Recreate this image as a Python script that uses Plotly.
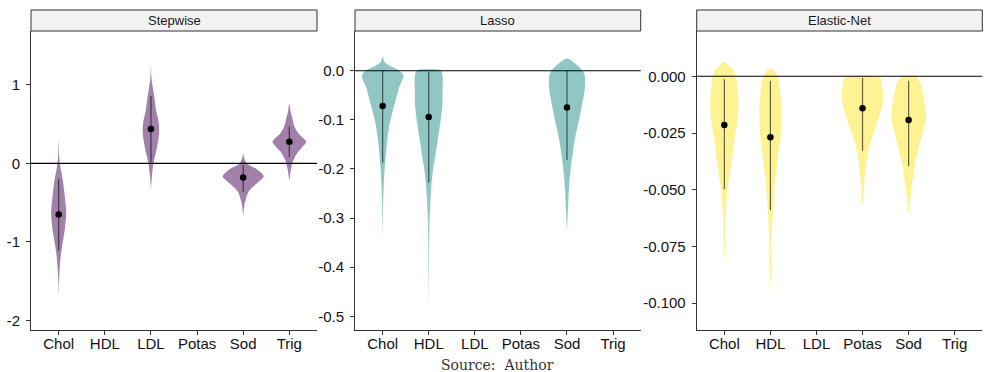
import plotly.graph_objects as go

# ---------------- data ----------------
categories = ["Chol", "HDL", "LDL", "Potas", "Sod", "Trig"]
panel_titles = ["Stepwise", "Lasso", "Elastic-Net"]

step_ticks = [-2, -1, 0, 1]
step_ticktext = ["-2", "-1", "0", "1"]
lasso_ticks = [-0.5, -0.4, -0.3, -0.2, -0.1, 0.0]
lasso_ticktext = ["-0.5", "-0.4", "-0.3", "-0.2", "-0.1", "0.0"]
en_ticks = [-0.1, -0.075, -0.05, -0.025, 0.0]
en_ticktext = ["-0.100", "-0.075", "-0.050", "-0.025", "0.000"]

# point estimates and intervals
step_vars = ["Chol", "LDL", "Sod", "Trig"]
step_est = [-0.65, 0.437, -0.18, 0.275]
step_lo = [-1.11, 0.02, -0.36, 0.08]
step_hi = [-0.20, 0.857, -0.02, 0.47]

lasso_vars = ["Chol", "HDL", "Sod"]
lasso_est = [-0.072, -0.094, -0.075]
lasso_lo = [-0.187, -0.228, -0.182]
lasso_hi = [0.0, -0.003, 0.0]

en_vars = ["Chol", "HDL", "Potas", "Sod"]
en_est = [-0.0215, -0.0269, -0.0141, -0.0193]
en_lo = [-0.0498, -0.059, -0.0328, -0.0395]
en_hi = [-0.0013, -0.002, -0.0006, -0.002]

# violin density profiles: value grid and half-width (category units)
step_chol_y = [0.30, 0.10, 0.0, -0.2, -0.4, -0.64, -0.85, -1.06, -1.2, -1.36, -1.5, -1.68]
step_chol_w = [0.0, 0.01, 0.025, 0.085, 0.13, 0.163, 0.13, 0.072, 0.04, 0.02, 0.008, 0.0]
step_ldl_y = [1.25, 1.1, 1.0, 0.85, 0.68, 0.55, 0.42, 0.3, 0.17, 0.0, -0.17, -0.34]
step_ldl_w = [0.0, 0.01, 0.03, 0.072, 0.11, 0.16, 0.18, 0.16, 0.12, 0.054, 0.02, 0.0]
step_sod_y = [0.127, 0.07, 0.0, -0.064, -0.11, -0.162, -0.21, -0.255, -0.36, -0.47, -0.55, -0.68]
step_sod_w = [0.0, 0.02, 0.08, 0.27, 0.37, 0.445, 0.38, 0.29, 0.115, 0.05, 0.02, 0.0]
step_trig_y = [0.76, 0.65, 0.59, 0.47, 0.38, 0.275, 0.2, 0.15, 0.04, -0.085, -0.23]
step_trig_w = [0.0, 0.03, 0.06, 0.11, 0.2, 0.365, 0.27, 0.195, 0.087, 0.033, 0.0]

lasso_chol_y = [0.0285, 0.018, 0.008, 0.0014, -0.009, -0.036, -0.07, -0.104, -0.138, -0.172, -0.206, -0.24, -0.27, -0.341]
lasso_chol_w = [0.0, 0.04, 0.2, 0.34, 0.45, 0.35, 0.254, 0.163, 0.104, 0.069, 0.039, 0.022, 0.011, 0.0]
lasso_hdl_y = [0.003, 0.0015, -0.009, -0.04, -0.07, -0.104, -0.138, -0.172, -0.206, -0.24, -0.27, -0.307, -0.341, -0.4, -0.484]
lasso_hdl_w = [0.0, 0.25, 0.30, 0.30, 0.297, 0.254, 0.2, 0.145, 0.087, 0.054, 0.033, 0.017, 0.011, 0.006, 0.0]
lasso_sod_y = [0.025, 0.0116, 0.0014, -0.009, -0.036, -0.07, -0.104, -0.138, -0.172, -0.206, -0.24, -0.273, -0.328]
lasso_sod_w = [0.0, 0.217, 0.325, 0.384, 0.386, 0.325, 0.254, 0.174, 0.119, 0.072, 0.043, 0.026, 0.0]

en_chol_y = [0.0064, 0.0045, 0.0028, 0.0, -0.0053, -0.0126, -0.02, -0.0273, -0.0347, -0.042, -0.0493, -0.0567, -0.064, -0.0713, -0.0839]
en_chol_w = [0.0, 0.1, 0.2, 0.254, 0.289, 0.308, 0.282, 0.224, 0.18, 0.13, 0.072, 0.043, 0.026, 0.015, 0.0]
en_hdl_y = [0.0032, 0.0028, 0.0013, -0.0024, -0.0126, -0.02, -0.0273, -0.0347, -0.042, -0.0493, -0.0567, -0.064, -0.0713, -0.0787, -0.086, -0.0956]
en_hdl_w = [0.0, 0.06, 0.12, 0.18, 0.239, 0.239, 0.217, 0.167, 0.13, 0.087, 0.065, 0.043, 0.028, 0.017, 0.011, 0.0]
en_potas_y = [0.0003, 0.0001, -0.0009, -0.0075, -0.0119, -0.0178, -0.0237, -0.0295, -0.0369, -0.0442, -0.0515, -0.0574]
en_potas_w = [0.0, 0.33, 0.39, 0.445, 0.44, 0.354, 0.265, 0.163, 0.091, 0.05, 0.026, 0.0]
en_sod_y = [0.0003, 0.0001, -0.0005, -0.0031, -0.009, -0.0178, -0.0237, -0.031, -0.0383, -0.0457, -0.053, -0.061]
en_sod_w = [0.0, 0.15, 0.18, 0.254, 0.325, 0.38, 0.319, 0.228, 0.145, 0.087, 0.043, 0.0]

step_profiles = [(step_chol_y, step_chol_w), (step_ldl_y, step_ldl_w), (step_sod_y, step_sod_w), (step_trig_y, step_trig_w)]
lasso_profiles = [(lasso_chol_y, lasso_chol_w), (lasso_hdl_y, lasso_hdl_w), (lasso_sod_y, lasso_sod_w)]
en_profiles = [(en_chol_y, en_chol_w), (en_hdl_y, en_hdl_w), (en_potas_y, en_potas_w), (en_sod_y, en_sod_w)]

# ---------------- style ----------------
fills = ["rgba(68,1,84,0.5)", "rgba(33,144,140,0.5)", "rgba(253,231,37,0.5)"]
W, H = 989, 372
x_domains = [[31 / W, 317 / W], [355 / W, 640.7 / W], [696.7 / W, 982.3 / W]]
y_domain = [1 - 330 / H, 1 - 31 / H]
y_ranges = [[-2.12, 1.685], [-0.528, 0.0809], [-0.1118, 0.01996]]
strip_h = 21 / 299.0

fig = go.Figure()

panels = [
    (step_vars, step_est, step_lo, step_hi, step_profiles, step_ticks, step_ticktext),
    (lasso_vars, lasso_est, lasso_lo, lasso_hi, lasso_profiles, lasso_ticks, lasso_ticktext),
    (en_vars, en_est, en_lo, en_hi, en_profiles, en_ticks, en_ticktext),
]

shapes = []
annotations = []
for p, (vars_, est, lo, hi, profiles, tv, tt) in enumerate(panels):
    xa = "x" if p == 0 else f"x{p+1}"
    ya = "y" if p == 0 else f"y{p+1}"
    for v, (py, pw) in zip(vars_, profiles):
        c = categories.index(v) + 1
        xs = [c + w for w in pw] + [c - w for w in reversed(pw)]
        ys = list(py) + list(reversed(py))
        fig.add_trace(go.Scatter(
            x=xs, y=ys, xaxis=xa, yaxis=ya, mode="lines", fill="toself",
            fillcolor=fills[p], line=dict(width=0, shape="spline", smoothing=0.8),
            hoverinfo="skip", showlegend=False))
    xs = [categories.index(v) + 1 for v in vars_]
    fig.add_trace(go.Scatter(
        x=xs, y=est, xaxis=xa, yaxis=ya, mode="markers",
        marker=dict(color="black", size=6.5),
        error_y=dict(type="data", symmetric=False,
                     array=[h - e for h, e in zip(hi, est)],
                     arrayminus=[e - l for e, l in zip(est, lo)],
                     color="rgba(0,0,0,0.6)", thickness=1.2, width=0),
        showlegend=False))
    # zero reference line
    shapes.append(dict(type="line", xref=f"{xa} domain", yref=ya, x0=0, x1=1, y0=0, y1=0,
                       line=dict(color="black", width=1.1), layer="above"))
    # facet strip
    shapes.append(dict(type="rect", xref=f"{xa} domain", yref=f"{ya} domain",
                       x0=0, x1=1, y0=1, y1=1 + strip_h,
                       fillcolor="#F2F2F2", line=dict(color="#333333", width=1)))
    annotations.append(dict(text=panel_titles[p], xref=f"{xa} domain", yref=f"{ya} domain",
                            x=0.5, y=1 + strip_h / 2, showarrow=False,
                            font=dict(family="Liberation Sans, Arial", size=13, color="#1a1a1a"),
                            xanchor="center", yanchor="middle"))
    axis_common = dict(showgrid=False, zeroline=False, showline=True, linecolor="#333333",
                       linewidth=1, ticks="outside", ticklen=4, tickcolor="#333333",
                       tickfont=dict(family="Liberation Sans, Arial", size=15, color="#111111"))
    fig.update_layout(**{
        ("xaxis" if p == 0 else f"xaxis{p+1}"): dict(
            domain=x_domains[p], anchor=ya, range=[0.4, 6.6], ticklabelstandoff=-4,
            tickvals=list(range(1, 7)), ticktext=categories, **axis_common),
        ("yaxis" if p == 0 else f"yaxis{p+1}"): dict(
            domain=y_domain, anchor=xa, range=y_ranges[p], ticklabelstandoff=3,
            tickvals=tv, ticktext=tt, **axis_common),
    })

annotations.append(dict(text="Source:  Author", xref="paper", yref="paper", x=497 / W, y=1 - 365 / H,
                        showarrow=False, xanchor="center", yanchor="middle",
                        font=dict(family="DejaVu Serif", size=14, color="#333333")))

fig.update_layout(width=W, height=H, margin=dict(l=0, r=0, t=0, b=0),
                  paper_bgcolor="white", plot_bgcolor="white",
                  shapes=shapes, annotations=annotations)

fig.write_html("out.html", config={"displayModeBar": False},
               post_script="document.body.style.margin='0';document.body.style.overflow='hidden';")
